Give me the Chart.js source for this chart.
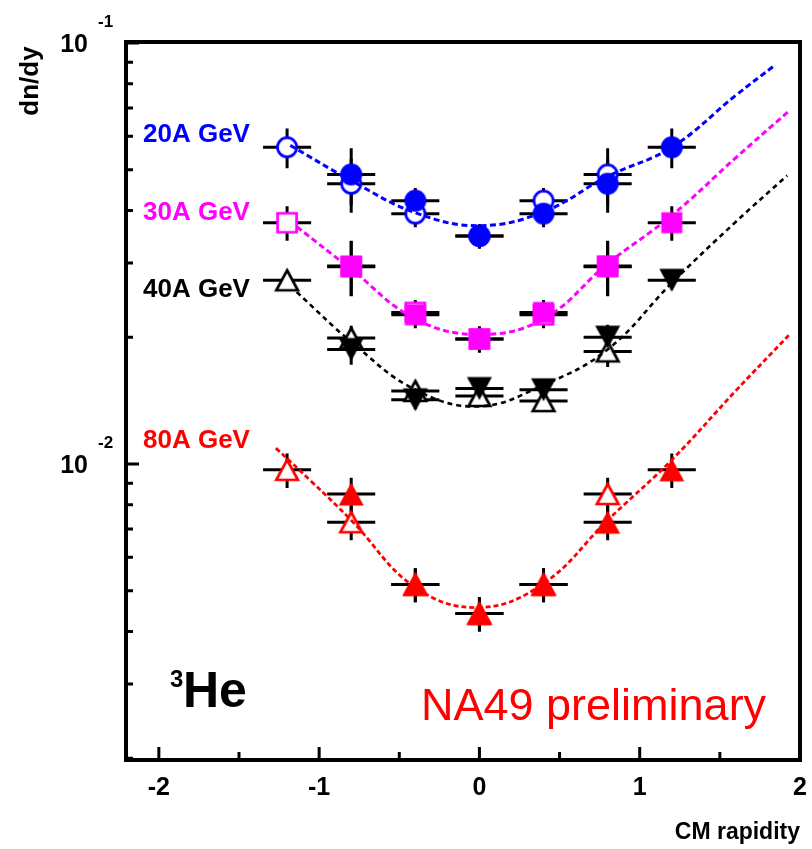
<!DOCTYPE html>
<html>
<head>
<meta charset="utf-8">
<title>3He dn/dy vs CM rapidity</title>
<script src="https://cdn.jsdelivr.net/npm/chart.js@4.4.1/dist/chart.umd.min.js"></script>
<style>
  html, body { margin: 0; padding: 0; background: #fff; }
  #wrap { width: 812px; height: 849px; }
</style>
</head>
<body>
<div id="wrap"><canvas id="heChart" width="812" height="849"></canvas></div>
<script>
// rapidity bins (CM), half width of the horizontal bars
const rapidity = [-1.2, -0.8, -0.4, 0, 0.4, 0.8, 1.2];
const xErr = 0.15;

// dn/dy per energy: filled = measured, open = reflected
const e20Filled = [null, 0.0487, 0.0422, 0.0348, 0.0393, 0.0463, 0.0565];
const e20FilledErr = [null, 0.0075, 0.0030, 0.0023, 0.0028, 0.0068, 0.0061];
const e20Open = [0.0565, 0.0463, 0.0393, 0.0348, 0.0422, 0.0487, null];
const e20OpenErr = [0.0061, 0.0068, 0.0028, 0.0023, 0.0030, 0.0075, null];

const e30Filled = [null, 0.0295, 0.0226, 0.0198, 0.0229, 0.0294, 0.0374];
const e30FilledErr = [null, 0.0044, 0.0016, 0.0014, 0.0016, 0.0044, 0.0035];
const e30Open = [0.0374, 0.0294, 0.0229, 0.0198, 0.0226, 0.0295, null];
const e30OpenErr = [0.0035, 0.0044, 0.0016, 0.0014, 0.0016, 0.0044, null];

const e40Filled = [null, 0.0187, 0.0142, 0.0151, 0.0150, 0.0200, 0.0273];
const e40FilledErr = [null, 0.0015, 0.0007, 0.0008, 0.0008, 0.0014, 0.0013];
const e40Open = [0.0273, 0.0199, 0.0149, 0.0145, 0.0141, 0.0185, null];
const e40OpenErr = [0.0013, 0.0014, 0.0007, 0.0007, 0.0007, 0.0015, null];

const e80Filled = [null, 0.00848, 0.00517, 0.00441, 0.00517, 0.00727, 0.00968];
const e80FilledErr = [null, 0.00079, 0.00048, 0.00041, 0.00048, 0.00068, 0.00091];
const e80Open = [0.00968, 0.00727, 0.00517, 0.00441, 0.00517, 0.00848, null];
const e80OpenErr = [0.00091, 0.00068, 0.00048, 0.00041, 0.00048, 0.00079, null];

// dashed fit curves
const fit20X = [-1.18, -0.8, -0.4, 0, 0.4, 0.8, 1.2, 1.6, 1.845];
const fit20Y = [0.0571, 0.0471, 0.0395, 0.0368, 0.0397, 0.0482, 0.0565, 0.0751, 0.0886];
const fit30X = [-1.14, -0.8, -0.4, 0, 0.4, 0.8, 1.2, 1.6, 1.93];
const fit30Y = [0.0366, 0.0290, 0.0221, 0.0203, 0.0221, 0.0299, 0.0389, 0.0534, 0.0688];
const fit40X = [-1.14, -0.8, -0.4, 0, 0.4, 0.8, 1.2, 1.6, 1.92];
const fit40Y = [0.0256, 0.0195, 0.0150, 0.0137, 0.0154, 0.0187, 0.0269, 0.0376, 0.0484];
const fit80X = [-1.27, -1.05, -0.8, -0.4, 0, 0.4, 0.8, 1.2, 1.6, 1.93];
const fit80Y = [0.0109, 0.0091, 0.00735, 0.00509, 0.00456, 0.00520, 0.00735, 0.01022, 0.01493, 0.02021];

// axes
const xMin = -2.205, xMax = 2;
const yMin = 0.00198, yMax = 0.1005;
const xTickMajor = [-2, -1, 0, 1, 2];
const xTickLabels = ['-2', '-1', '0', '1', '2'];
const xTickMinor = [-1.5, -0.5, 0.5, 1.5];
const yTickMajor = [0.01, 0.1];
const yTickExp = ['-2', '-1'];

const BLUE = '#0000ff', MAGENTA = '#ff00ff', BLACK = '#000000', RED = '#ff0000';
const FONT = '"Liberation Sans", Arial, Helvetica, sans-serif';

// ROOT-like markers, centred on their bounding box
function marker(shape, color, filled) {
  const c = document.createElement('canvas');
  c.width = 32; c.height = 32;
  const g = c.getContext('2d');
  g.fillStyle = filled ? color : '#fff';
  g.strokeStyle = color;
  g.lineWidth = 2.7;
  g.lineJoin = 'miter';
  g.beginPath();
  if (shape === 'circle') {
    g.arc(16, 16, filled ? 11 : 9.6, 0, Math.PI * 2);
  } else if (shape === 'square') {
    if (filled) g.rect(5.5, 5.5, 21, 21); else g.rect(6.5, 6.5, 19, 19);
  } else {
    const w = filled ? 12.5 : 10.8, h = filled ? 11.5 : 10;
    const s = shape === 'up' ? 1 : -1;
    g.moveTo(16, 16 - s * h);
    g.lineTo(16 + w, 16 + s * h);
    g.lineTo(16 - w, 16 + s * h);
    g.closePath();
  }
  g.fill();
  if (!filled) g.stroke();
  return c;
}

function points(values, errs) {
  const data = [], errY = [];
  values.forEach((v, i) => {
    if (v === null) return;
    data.push({x: rapidity[i], y: v});
    errY.push(errs[i]);
  });
  return {data, errY};
}

function markerSet(values, errs, style, order) {
  const p = points(values, errs);
  return {
    data: p.data,
    errY: p.errY,
    pointStyle: style,
    pointRadius: 11,
    showLine: false,
    order: order
  };
}

function fitSet(xs, ys, color, dash, width) {
  return {
    data: xs.map((x, i) => ({x: x, y: ys[i]})),
    showLine: true,
    borderColor: color,
    borderWidth: width,
    borderDash: dash,
    pointRadius: 0,
    tension: 0.4,
    order: 0
  };
}

// error bars go under the markers
const errorBars = {
  id: 'errorBars',
  beforeDatasetsDraw(chart) {
    const {ctx, scales: {x, y}} = chart;
    ctx.save();
    ctx.strokeStyle = '#000';
    ctx.lineWidth = 3;
    chart.data.datasets.forEach(ds => {
      if (!ds.errY) return;
      ds.data.forEach((p, i) => {
        const px = x.getPixelForValue(p.x);
        const py = y.getPixelForValue(p.y);
        const e = ds.errY[i];
        ctx.beginPath();
        ctx.moveTo(x.getPixelForValue(p.x - xErr), py);
        ctx.lineTo(x.getPixelForValue(p.x + xErr), py);
        ctx.moveTo(px, y.getPixelForValue(p.y + e));
        ctx.lineTo(px, y.getPixelForValue(p.y - e));
        ctx.stroke();
      });
    });
    ctx.restore();
  }
};

// frame, inward ticks and all the texts
const frame = {
  id: 'frame',
  afterDraw(chart) {
    const {ctx, chartArea: a, scales: {x, y}} = chart;
    ctx.save();
    ctx.strokeStyle = '#000';
    ctx.lineWidth = 3;
    ctx.beginPath();
    xTickMajor.forEach(v => {
      const px = x.getPixelForValue(v);
      ctx.moveTo(px, a.bottom); ctx.lineTo(px, a.bottom - 13);
    });
    xTickMinor.forEach(v => {
      const px = x.getPixelForValue(v);
      ctx.moveTo(px, a.bottom); ctx.lineTo(px, a.bottom - 8);
    });
    yTickMajor.forEach(v => {
      const py = y.getPixelForValue(v);
      ctx.moveTo(a.left, py); ctx.lineTo(a.left + 13, py);
    });
    [0.001, 0.01].forEach(dec => {
      for (let k = 2; k <= 9; k++) {
        const v = k * dec;
        if (v <= yMin || v >= yMax) continue;
        const py = y.getPixelForValue(v);
        ctx.moveTo(a.left, py); ctx.lineTo(a.left + 7, py);
      }
    });
    ctx.stroke();

    ctx.lineWidth = 4;
    ctx.strokeRect(a.left, a.top, a.right - a.left, a.bottom - a.top);

    ctx.fillStyle = '#000';
    ctx.textBaseline = 'middle';
    ctx.textAlign = 'center';
    ctx.font = 'bold 25px ' + FONT;
    xTickMajor.forEach((v, i) => ctx.fillText(xTickLabels[i], x.getPixelForValue(v), 788));

    yTickMajor.forEach((v, i) => {
      const py = y.getPixelForValue(v);
      ctx.textAlign = 'right';
      ctx.font = 'bold 25px ' + FONT;
      ctx.fillText('10', 88, py + 2);
      ctx.textAlign = 'left';
      ctx.font = 'bold 17px ' + FONT;
      ctx.fillText(yTickExp[i], 98, py - 21);
    });

    ctx.save();
    ctx.translate(31, 81);
    ctx.rotate(-Math.PI / 2);
    ctx.textAlign = 'center';
    ctx.font = 'bold 26px ' + FONT;
    ctx.fillText('dn/dy', 0, 0);
    ctx.restore();

    ctx.textBaseline = 'alphabetic';
    ctx.textAlign = 'right';
    ctx.font = 'bold 23px ' + FONT;
    ctx.fillText('CM rapidity', 800, 839);

    ctx.textAlign = 'left';
    ctx.font = 'bold 26px ' + FONT;
    [['20A GeV', BLUE, 142], ['30A GeV', MAGENTA, 220], ['40A GeV', BLACK, 297], ['80A GeV', RED, 448]]
      .forEach(t => { ctx.fillStyle = t[1]; ctx.fillText(t[0], 143, t[2]); });

    ctx.fillStyle = '#000';
    ctx.font = 'bold 24px ' + FONT;
    ctx.fillText('3', 170, 687);
    ctx.font = 'bold 50px ' + FONT;
    ctx.fillText('He', 183, 707);

    ctx.fillStyle = RED;
    ctx.font = '45px ' + FONT;
    ctx.fillText('NA49 preliminary', 421, 720);
    ctx.restore();
  }
};

const ctx = document.getElementById('heChart').getContext('2d');
const heChart = new Chart(ctx, {
  type: 'scatter',
  data: {
    datasets: [
      fitSet(fit20X, fit20Y, BLUE, [6, 3.5], 3),
      fitSet(fit30X, fit30Y, MAGENTA, [6, 3.5], 3),
      fitSet(fit40X, fit40Y, BLACK, [5, 4], 2.6),
      fitSet(fit80X, fit80Y, RED, [5, 3], 2.8),
      markerSet(e20Filled, e20FilledErr, marker('circle', BLUE, true), 1),
      markerSet(e30Filled, e30FilledErr, marker('square', MAGENTA, true), 1),
      markerSet(e40Filled, e40FilledErr, marker('down', BLACK, true), 1),
      markerSet(e80Filled, e80FilledErr, marker('up', RED, true), 1),
      markerSet(e20Open, e20OpenErr, marker('circle', BLUE, false), 2),
      markerSet(e30Open, e30OpenErr, marker('square', MAGENTA, false), 2),
      markerSet(e40Open, e40OpenErr, marker('up', BLACK, false), 2),
      markerSet(e80Open, e80OpenErr, marker('up', RED, false), 2)
    ]
  },
  options: {
    responsive: false,
    animation: false,
    devicePixelRatio: 1,
    layout: {padding: {top: 42, right: 9, left: 0, bottom: 0}},
    plugins: {legend: {display: false}, tooltip: {enabled: false}},
    scales: {
      x: {
        type: 'linear', min: xMin, max: xMax,
        ticks: {display: false}, grid: {display: false}, border: {display: false},
        afterFit: s => { s.height = 89; }
      },
      y: {
        type: 'logarithmic', min: yMin, max: yMax,
        ticks: {display: false}, grid: {display: false}, border: {display: false},
        afterFit: s => { s.width = 126; }
      }
    }
  },
  plugins: [errorBars, frame]
});
</script>
</body>
</html>
